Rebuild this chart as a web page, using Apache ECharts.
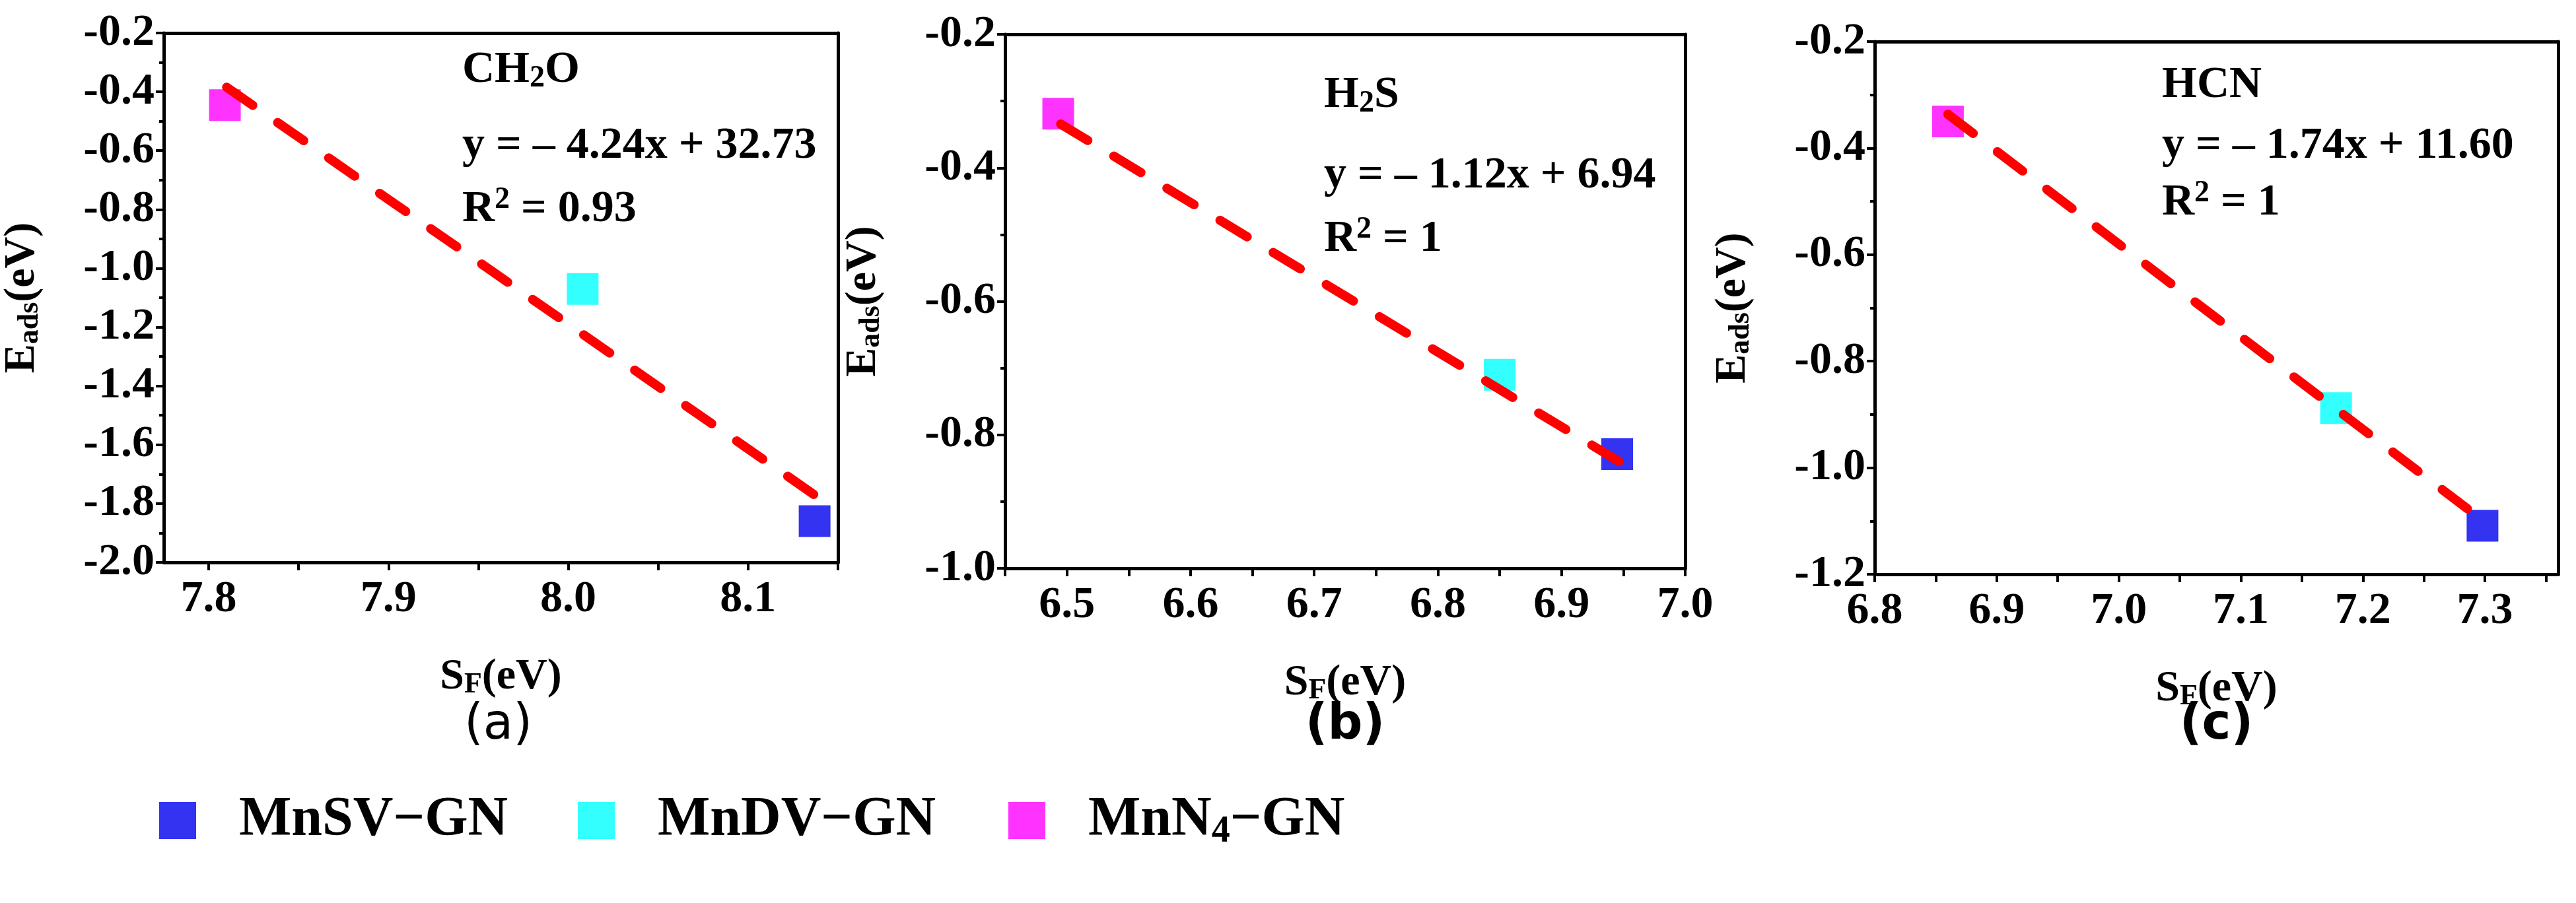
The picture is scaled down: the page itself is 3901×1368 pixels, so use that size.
<!DOCTYPE html>
<html>
<head>
<meta charset="utf-8">
<script src="https://cdn.jsdelivr.net/npm/echarts@6/dist/echarts.min.js"></script>
<style>html,body{margin:0;padding:0;background:#fff}#main{width:3901px;height:1368px}</style>
</head>
<body>
<div id="main"></div>
<script>
// 材料名称
const materials = ['MnSV−GN', 'MnDV−GN', 'MnN4−GN'];
const materialColors = ['#0000ee', '#00ffff', '#ff00ff'];

// 各面板数据 [S_F, E_ads]，顺序同 materials
const panelGases = ['CH2O', 'H2S', 'HCN'];
const panelLetters = ['(a)', '(b)', '(c)'];
const pointsA = [[8.137, -1.86], [8.008, -1.07], [7.809, -0.445]];
const pointsB = [[6.945, -0.829], [6.85, -0.71], [6.493, -0.319]];
const pointsC = [[7.298, -1.109], [7.178, -0.888], [6.86, -0.35]];
// 拟合线 斜率/截距/x范围
const fitA = { k: -4.24, b: 32.73, x: [7.81, 8.142] };
const fitB = { k: -1.12, b: 6.94, x: [6.495, 6.947] };
const fitC = { k: -1.74, b: 11.60, x: [6.86, 7.296] };
const fitTexts = ['y = – 4.24x + 32.73', 'y = – 1.12x + 6.94', 'y = – 1.74x + 11.60'];
const r2Texts = ['0.93', '1', '1'];

// 坐标轴范围与刻度
const xRanges = [[7.775, 8.15], [6.45, 7.0], [6.8, 7.36]];
const xLabelsA = [7.8, 7.9, 8.0, 8.1];
const xLabelsB = [6.5, 6.6, 6.7, 6.8, 6.9, 7.0];
const xLabelsC = [6.8, 6.9, 7.0, 7.1, 7.2, 7.3];
const xTicksA = [7.8, 7.85, 7.9, 7.95, 8.0, 8.05, 8.1, 8.15];
const xTicksB = [6.45, 6.5, 6.55, 6.6, 6.65, 6.7, 6.75, 6.8, 6.85, 6.9, 6.95, 7.0];
const xTicksC = [6.8, 6.85, 6.9, 6.95, 7.0, 7.05, 7.1, 7.15, 7.2, 7.25, 7.3, 7.35];
const yRanges = [[-2.0, -0.2, 0.2], [-1.0, -0.2, 0.2], [-1.2, -0.2, 0.2]];

const points = [pointsA, pointsB, pointsC];
const fits = [fitA, fitB, fitC];
const xLabels = [xLabelsA, xLabelsB, xLabelsC];
const xTicks = [xTicksA, xTicksB, xTicksC];

const grids = [
    { left: 240, top: 50, width: 1029, height: 802 },
    { left: 1522, top: 52, width: 1030, height: 809 },
    { left: 2839, top: 63, width: 1035, height: 807 }
];

const serif = 'Liberation Serif';
const lab = { fontFamily: serif, fontWeight: 'bold', fontSize: 68, color: '#000' };
const richName = {
    b: { fontFamily: serif, fontWeight: 'bold', fontSize: 66, color: '#000' },
    s: { fontFamily: serif, fontWeight: 'bold', fontSize: 44, color: '#000', verticalAlign: 'bottom', padding: [24, 0, 0, 0] },
    p: { fontFamily: serif, fontWeight: 'bold', fontSize: 44, color: '#000', padding: [0, 0, 26, 0] }
};
const richNote = {
    b: { fontFamily: serif, fontWeight: 'bold', fontSize: 68, color: '#000' },
    s: { fontFamily: serif, fontWeight: 'bold', fontSize: 46, color: '#000', padding: [26, 0, 0, 0] },
    p: { fontFamily: serif, fontWeight: 'bold', fontSize: 46, color: '#000', padding: [0, 0, 28, 0] }
};

const chart = echarts.init(document.getElementById('main'));

const xAxis = [], yAxis = [], series = [], graphic = [];
grids.forEach((g, i) => {
    const axisLine = { show: true, onZero: false, lineStyle: { color: '#000', width: 5 } };
    xAxis.push({
        type: 'value', gridIndex: i, min: xRanges[i][0], max: xRanges[i][1],
        axisLine,
        axisTick: { show: true, length: 12, customValues: xTicks[i], lineStyle: { width: 4, color: '#000' } },
        splitLine: { show: false },
        axisLabel: Object.assign({ margin: 22, customValues: xLabels[i], formatter: v => v.toFixed(1) }, lab),
        name: '{b|S}{s|F}{b|(eV)}', nameLocation: 'middle', nameGap: 140,
        nameTextStyle: { rich: richName }
    });
    xAxis.push({
        type: 'value', gridIndex: i, position: 'top', min: xRanges[i][0], max: xRanges[i][1],
        axisLine, axisTick: { show: false }, axisLabel: { show: false }, splitLine: { show: false }
    });
    yAxis.push({
        type: 'value', gridIndex: i, min: yRanges[i][0], max: yRanges[i][1], interval: yRanges[i][2],
        axisLine, axisTick: { show: true, length: 12, lineStyle: { width: 4, color: '#000' } },
        minorTick: { show: true, splitNumber: 2, length: 7, lineStyle: { width: 4, color: '#000' } },
        splitLine: { show: false },
        axisLabel: Object.assign({ margin: 14, formatter: v => v.toFixed(1) }, lab),
        name: '{b|E}{s|ads}{b|(eV)}', nameLocation: 'middle', nameGap: 180,
        nameTextStyle: { rich: richName }
    });
    yAxis.push({
        type: 'value', gridIndex: i, position: 'right', min: yRanges[i][0], max: yRanges[i][1],
        axisLine, axisTick: { show: false }, axisLabel: { show: false }, splitLine: { show: false }
    });

    const f = fits[i];
    series.push({
        type: 'line', xAxisIndex: i * 2, yAxisIndex: i * 2, symbol: 'none', silent: true, z: 3,
        data: f.x.map(x => [x, f.k * x + f.b]),
        lineStyle: { color: '#ff0000', width: 14, type: [48, 46], cap: 'round' }
    });
    points[i].forEach((p, j) => {
        series.push({
            type: 'scatter', name: materials[j], xAxisIndex: i * 2, yAxisIndex: i * 2,
            symbol: 'rect', symbolSize: 48, z: 2, data: [p],
            itemStyle: { color: materialColors[j] }
        });
    });

    // 注释文字
    const tx = [700, 2005, 3274][i];
    const ty = [[112, 225, 320], [150, 270, 365], [135, 225, 310]][i];
    const gas = '{b|' + panelGases[i].replace('2', '}{s|2}{b|') + '}';
    graphic.push({ type: 'text', left: tx, top: ty[0] - 40, style: { text: gas, rich: richNote } });
    graphic.push({ type: 'text', left: tx, top: ty[1] - 38, style: { text: fitTexts[i], font: 'bold 68px "Liberation Serif"', fill: '#000' } });
    graphic.push({ type: 'text', left: tx, top: ty[2] - 40, style: { text: '{b|R}{p|2}{b| = ' + r2Texts[i] + '}', rich: richNote } });
    graphic.push({
        type: 'text', style: {
            text: panelLetters[i], x: g.left + g.width / 2, y: 1100, align: 'center', verticalAlign: 'middle',
            font: (i === 0 ? '' : 'bold ') + '74px "DejaVu Sans"', fill: '#000'
        }
    });
});

const legendRich = {
    a: { fontFamily: serif, fontWeight: 'bold', fontSize: 84, color: '#000' },
    s: { fontFamily: serif, fontWeight: 'bold', fontSize: 56, color: '#000', padding: [36, 0, 0, 0] }
};
const legendLeft = [236, 870, 1522];
const legend = materials.map((m, j) => ({
    left: legendLeft[j], top: 1196, data: [m], icon: 'rect', itemWidth: 56, itemHeight: 56,
    selectedMode: false,
    formatter: n => n === 'MnN4−GN' ? '{a|MnN}{s|4}{a|−GN}' : '{a|' + n + '}',
    textStyle: { rich: legendRich, padding: [0, 0, 0, 60] }
}));

chart.setOption({
    animation: false,
    grid: grids,
    xAxis, yAxis, series, graphic, legend
});
</script>
</body>
</html>
